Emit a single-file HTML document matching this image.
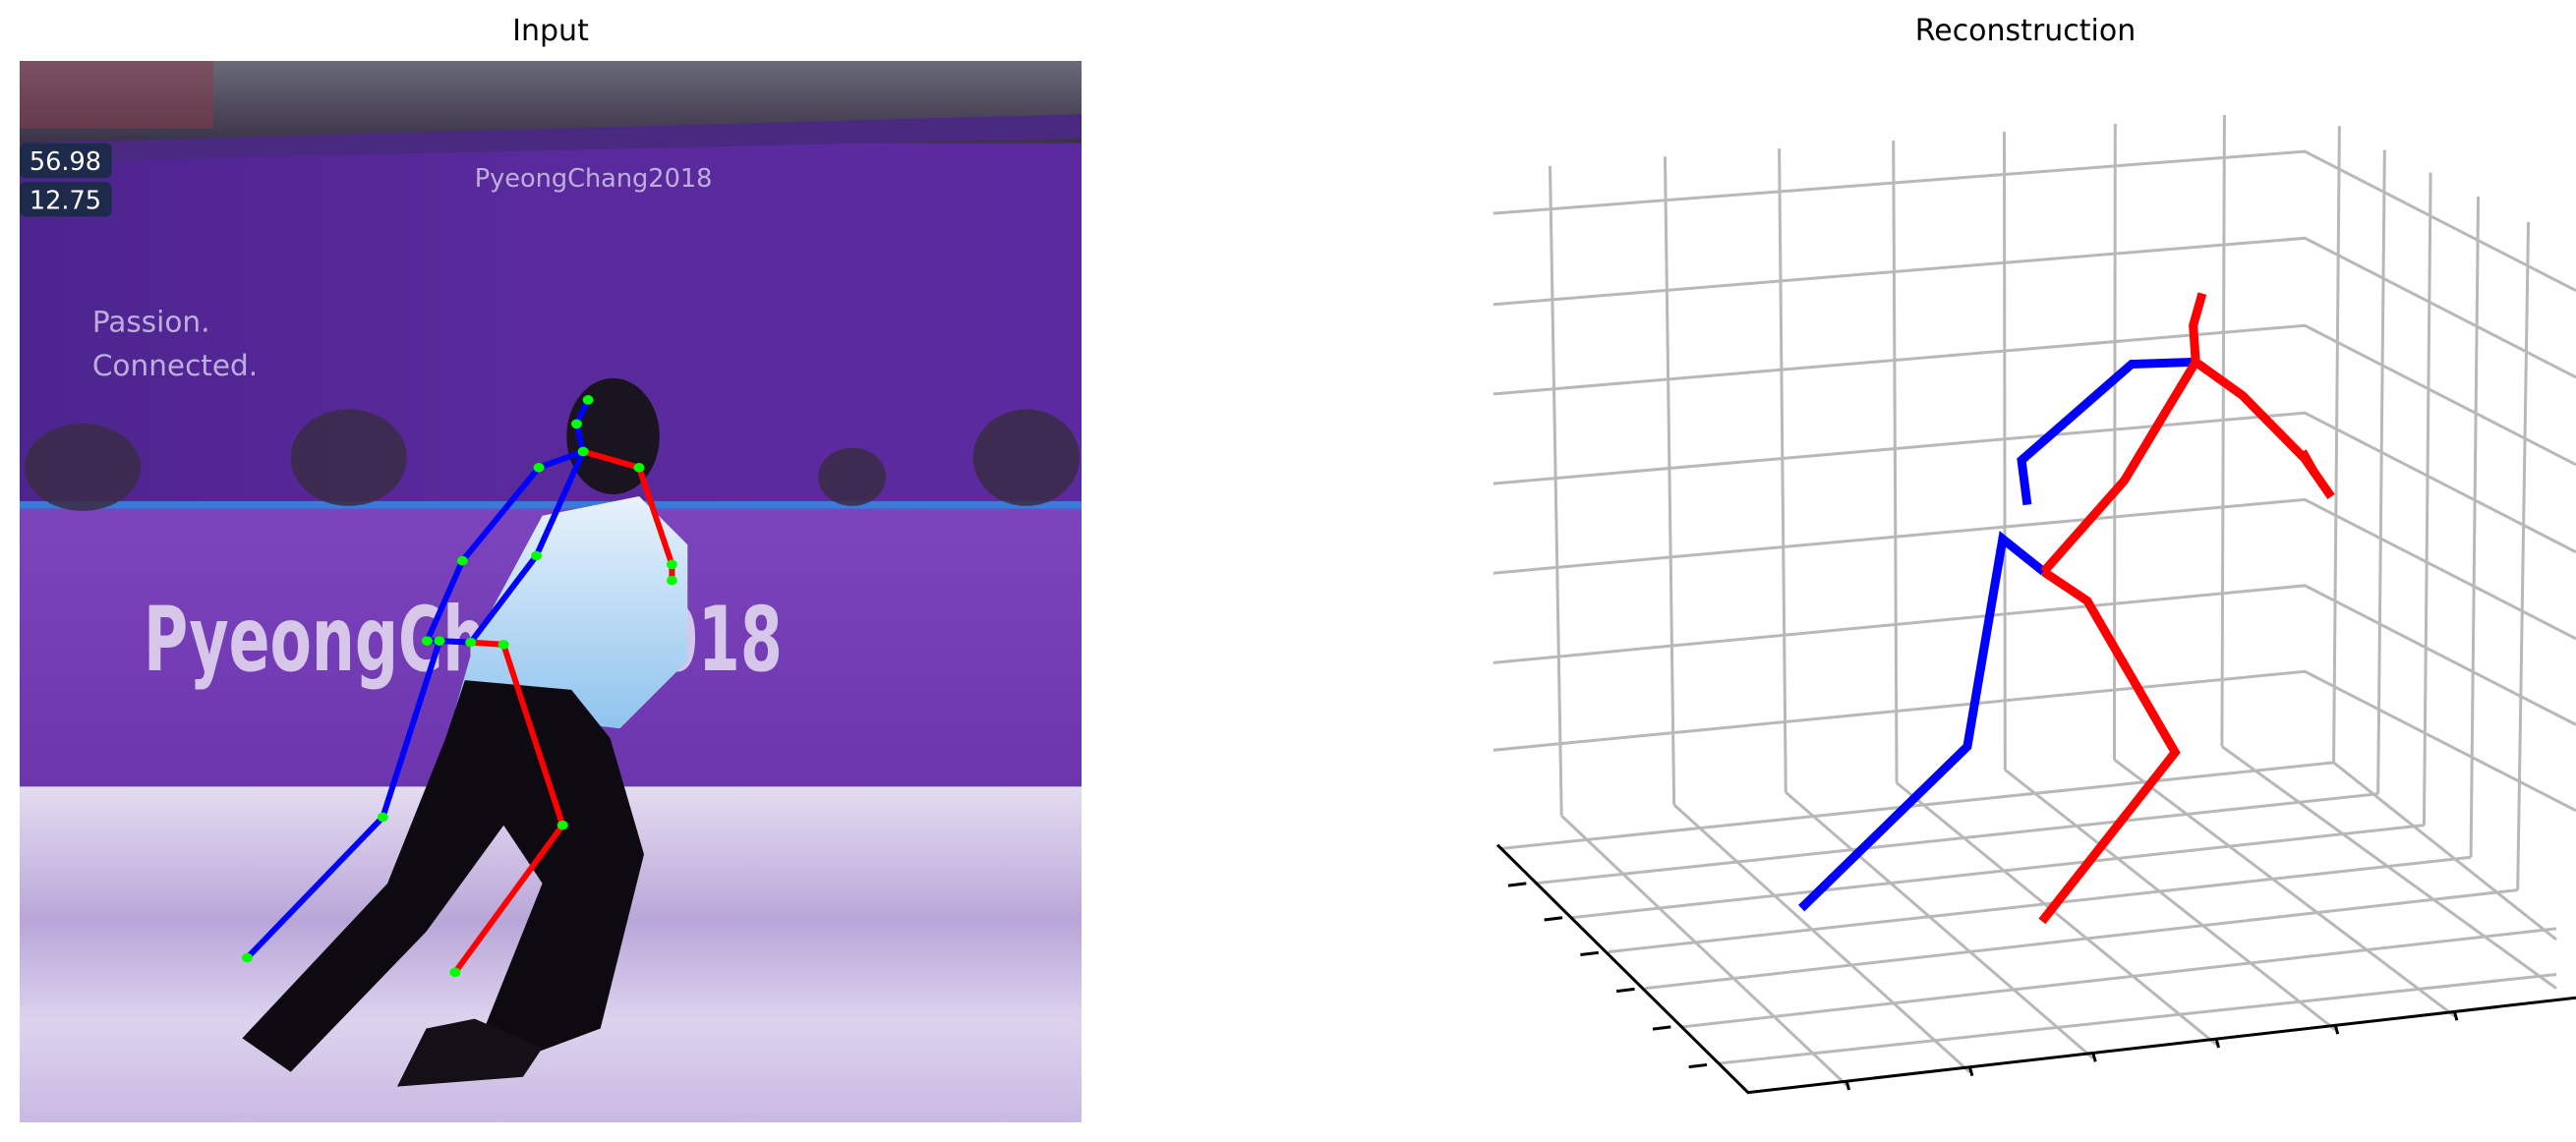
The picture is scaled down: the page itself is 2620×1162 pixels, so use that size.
<!DOCTYPE html>
<html><head><meta charset="utf-8"><style>
html,body{margin:0;padding:0;background:#fff;}
body{width:2620px;height:1162px;position:relative;overflow:hidden;font-family:"DejaVu Sans","Liberation Sans",sans-serif;}
.title{position:absolute;top:14px;font-size:30px;color:#000;transform:translateX(-50%);white-space:nowrap;}
svg{position:absolute;}
</style></head><body>
<div class="title" style="left:560px">Input</div>
<div class="title" style="left:2060px">Reconstruction</div>

<svg style="left:20px;top:62px" width="1080" height="1080" viewBox="0 0 1097 1097" preserveAspectRatio="none">
  <defs>
    <linearGradient id="crowd" x1="0" y1="0" x2="0" y2="1"><stop offset="0" stop-color="#6a6a78"/><stop offset="1" stop-color="#3a3348"/></linearGradient>
    <linearGradient id="wall" x1="0" y1="0" x2="1" y2="0"><stop offset="0" stop-color="#4d2490"/><stop offset="0.5" stop-color="#5a2a9c"/><stop offset="1" stop-color="#5b2aa0"/></linearGradient>
    <linearGradient id="board" x1="0" y1="0" x2="0" y2="1"><stop offset="0" stop-color="#7d45bd"/><stop offset="1" stop-color="#6c35ad"/></linearGradient>
    <linearGradient id="ice" x1="0" y1="0" x2="0" y2="1"><stop offset="0" stop-color="#e4dcf0"/><stop offset="0.4" stop-color="#b9a6d9"/><stop offset="0.7" stop-color="#ddd3ee"/><stop offset="1" stop-color="#c9b9e2"/></linearGradient>
    <linearGradient id="shirt" x1="0" y1="0" x2="0" y2="1"><stop offset="0" stop-color="#e8f2fb"/><stop offset="1" stop-color="#8fc4ee"/></linearGradient>
  </defs>
  <rect width="1097" height="1097" fill="url(#wall)"/>
  <rect width="1097" height="85" fill="url(#crowd)"/>
  <rect x="0" y="0" width="200" height="70" fill="#8a3a4a" opacity="0.5"/>
  <polygon points="0,85 1097,55 1097,80 0,105" fill="#4a2a80"/>
  <rect x="0" y="455" width="1097" height="8" fill="#3a7ad8"/>
  <rect x="0" y="463" width="1097" height="290" fill="url(#board)"/>
  <rect x="0" y="750" width="1097" height="347" fill="url(#ice)"/>
  <g fill="#3a2c44" opacity="0.85">
    <ellipse cx="65" cy="420" rx="60" ry="45"/><ellipse cx="340" cy="410" rx="60" ry="50"/>
    <ellipse cx="860" cy="430" rx="35" ry="30"/><ellipse cx="1040" cy="410" rx="55" ry="50"/>
  </g>
  <g fill="#f0f0f0" font-family="DejaVu Sans, sans-serif">
    <rect x="0" y="85" width="95" height="36" rx="6" fill="#1d2a4a"/>
    <text x="10" y="113" font-size="26" fill="#fff">56.98</text>
    <rect x="0" y="125" width="95" height="36" rx="6" fill="#1d2a4a"/>
    <text x="10" y="153" font-size="26" fill="#fff">12.75</text>
    <text x="470" y="130" font-size="26" fill="#d8d0f0" opacity="0.8">PyeongChang2018</text>
    <text x="75" y="280" font-size="30" fill="#d8d0f0" opacity="0.8">Passion.</text>
    <text x="75" y="325" font-size="30" fill="#d8d0f0" opacity="0.8">Connected.</text>
    <text x="128" y="630" font-size="92" font-weight="bold" fill="#e8e0f4" opacity="0.85" textLength="660" lengthAdjust="spacingAndGlyphs">PyeongChang2018</text>
  </g>
  <g>
    <ellipse cx="613" cy="388" rx="48" ry="60" fill="#1a1420"/>
    <polygon points="540,470 640,450 690,500 690,620 620,690 450,670 470,600" fill="url(#shirt)"/>
    <polygon points="460,640 570,650 610,700 645,820 600,1000 520,1030 480,1000 540,850 500,790 420,900 280,1045 230,1010 380,850 440,700" fill="#0e0a12"/>
    <polygon points="470,990 540,1020 520,1050 390,1060 420,1000" fill="#151018"/>
  </g>
</svg>

<svg id="leftSkel" style="left:0;top:0" width="1310" height="1162" viewBox="0 0 1568 1568" preserveAspectRatio="none"></svg>
<svg id="right" style="left:1310px;top:0" width="1310" height="1162" viewBox="0 0 1568 1568" preserveAspectRatio="none"></svg>

<script>
const NS="http://www.w3.org/2000/svg";
const blue2d=[[[716,549],[702,582],[710,620]],[[710,620],[656,642],[563,770],[520,880]],[[710,620],[653,763],[573,882]],[[520,880],[535,880],[573,882]],[[535,880],[466,1122],[301,1315]]];
const red2d=[[[573,882],[613,885],[685,1133],[554,1335]],[[710,620],[778,642],[818,775],[818,797]]];
const joints2d=[[716,549],[702,582],[710,620],[656,642],[563,770],[520,880],[535,880],[573,882],[613,885],[466,1122],[301,1315],[685,1133],[554,1335],[778,642],[818,775],[818,797],[653,763]];
const blue3d=[[[1105,497],[1027,500],[893,632],[900,693]],[[920,785],[870,740],[827,1025],[625,1247]]];
const red3d=[[[1113,403],[1102,447],[1105,497]],[[1105,497],[1162,543],[1238,630],[1270,682]],[[1235,620],[1250,650]],[[1105,497],[1018,660],[920,785]],[[920,785],[973,825],[1080,1033],[918,1265]]];
const backV=[[319,228,333,1120],[459,215,470,1105],[598,204,606,1088],[737,193,741,1075],[872,181,873,1057],[1007,170,1006,1043],[1140,158,1137,1025]];
const backH=[[293,208],[418,327],[541,447],[664,567],[787,686],[910,804],[1030,922]];
const rightV=[[1280,173,1273,1047],[1335,206,1327,1090],[1391,237,1383,1133],[1449,270,1440,1177],[1510,305,1497,1222]];
const floorA=[[260,1165,1273,1047],[300,1213,1327,1090],[345,1260,1383,1133],[390,1307,1440,1177],[435,1357,1497,1222],[480,1410,1544,1275],[525,1460,1544,1338]];
const floorB=[[333,1120,680,1490],[470,1105,830,1472],[606,1088,980,1453],[741,1075,1130,1434],[873,1057,1275,1414],[1006,1043,1420,1395],[1137,1025,1544,1357],[1273,1047,1544,1290]];
const tickL=[[290,1213],[334,1260],[378,1308],[422,1358],[466,1410],[510,1462]];
const tickB=[680,830,980,1130,1275,1420];

function line(svg,pts,color,w,name){
  const p=document.createElementNS(NS,"polyline");
  p.setAttribute("points",pts.map(a=>a.join(",")).join(" "));
  p.setAttribute("fill","none");p.setAttribute("stroke",color);p.setAttribute("stroke-width",w);
  p.setAttribute("vector-effect","non-scaling-stroke");
  
  
  svg.appendChild(p);
}
const L=document.getElementById("leftSkel");
blue2d.forEach(s=>line(L,s,"#0000ff",6,"blue-limb"));
red2d.forEach(s=>line(L,s,"#ff0000",6,"red-limb"));
joints2d.forEach(j=>{
  const c=document.createElementNS(NS,"ellipse");
  c.setAttribute("cx",j[0]);c.setAttribute("cy",j[1]);c.setAttribute("rx",6.5);c.setAttribute("ry",6.5);c.setAttribute("fill","#00ff00");
  
  
  L.appendChild(c);
});
const R=document.getElementById("right");
const g="#b8b8b8";
backV.forEach(v=>line(R,[[v[0],v[1]],[v[2],v[3]]],g,3,"grid-line"));
backH.forEach(h=>line(R,[[250,h[0]],[1238,h[1]],[1568,h[1]+191]],g,3,"grid-line"));
rightV.forEach(v=>line(R,[[v[0],v[1]],[v[2],v[3]]],g,3,"grid-line"));
floorA.forEach(v=>line(R,[[v[0],v[1]],[v[2],v[3]]],g,3,"grid-line"));
floorB.forEach(v=>line(R,[[v[0],v[1]],[v[2],v[3]]],g,3,"grid-line"));
line(R,[[255,1160],[560,1500],[1568,1370]],"#000",3,"axis-line");
tickL.forEach(t=>line(R,[[t[0],t[1]],[t[0]-22,t[1]+3]],"#000",3,"axis-tick"));
tickB.forEach(x=>{const y=1500-(x-560)*(127/984);line(R,[[x,y],[x+3,y+12]],"#000",3,"axis-tick");});
blue3d.forEach(s=>line(R,s,"#0000ff",9,"blue-bone"));
red3d.forEach(s=>line(R,s,"#ff0000",9,"red-bone"));
</script>
</body></html>
